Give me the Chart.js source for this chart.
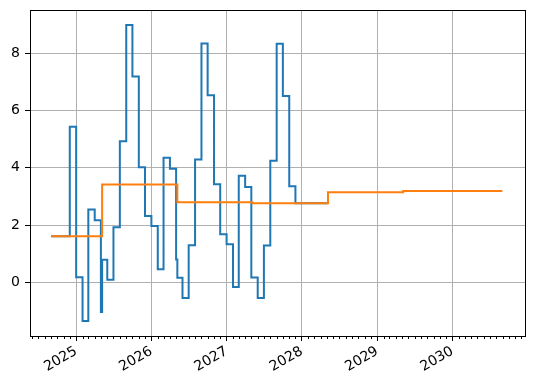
<!DOCTYPE html>
<html>
<head>
<meta charset="utf-8">
<script src="https://cdn.jsdelivr.net/npm/chart.js@4"></script>
<style>
  body { margin: 0; background: #fff; }
  #wrap { width: 534px; height: 385px; }
</style>
</head>
<body>
<div id="wrap"><canvas id="myChart" width="534" height="385"></canvas></div>
<script>
// monthly series (step-post: each value holds from its date to the next one)
let blueDates = [
  "2024-09-01", "2024-12-01", "2025-01-01", "2025-02-01", "2025-03-01", "2025-04-01",
  "2025-05-01", "2025-05-07", "2025-06-01", "2025-07-01", "2025-08-01", "2025-09-01",
  "2025-10-01", "2025-11-01", "2025-12-01", "2026-01-01", "2026-02-01", "2026-03-01",
  "2026-04-01", "2026-05-01", "2026-05-07", "2026-06-01", "2026-07-01", "2026-08-01",
  "2026-09-01", "2026-10-01", "2026-11-01", "2026-12-01", "2027-01-01", "2027-02-01",
  "2027-03-01", "2027-04-01", "2027-05-01", "2027-06-01", "2027-07-01", "2027-08-01",
  "2027-09-01", "2027-10-01", "2027-11-01", "2027-12-01", "2028-05-07"
];
let blueValues = [
  1.62, 5.43, 0.19, -1.34, 2.55, 2.17,
  -1.02, 0.80, 0.10, 1.93, 4.93, 8.98,
  7.18, 4.02, 2.32, 1.97, 0.47, 4.35,
  3.97, 0.81, 0.17, -0.54, 1.30, 4.29,
  8.33, 6.53, 3.43, 1.69, 1.34, -0.15,
  3.72, 3.33, 0.18, -0.54, 1.29, 4.25,
  8.32, 6.50, 3.36, 2.77, 2.77
];

// yearly level
let orangeDates = ["2024-09-01", "2025-05-07", "2026-05-07", "2027-05-07", "2028-05-07", "2029-05-07", "2030-08-31"];
let orangeValues = [1.62, 3.42, 2.80, 2.77, 3.15, 3.19, 3.19];

let yearTicks = [2025, 2026, 2027, 2028, 2029, 2030];
let yTicks = [0, 2, 4, 6, 8];

let xMin = Date.UTC(2024, 4, 22);
let xMax = Date.UTC(2030, 11, 19);

function toPoints(dates, values) {
  return dates.map((d, i) => ({ x: Date.parse(d), y: values[i] }));
}

// matplotlib-like frame and monthly minor ticks
const frame = {
  id: "frame",
  afterDraw(chart) {
    let c = chart.ctx;
    let a = chart.chartArea;
    let xs = chart.scales.x;
    c.save();
    c.strokeStyle = "#000";
    c.lineWidth = 1;
    c.beginPath();
    for (let y = 2024; y <= 2030; y++) {
      for (let m = 1; m < 12; m++) {
        let px = Math.round(xs.getPixelForValue(Date.UTC(y, m, 1))) + 0.5;
        if (px < a.left || px > a.right) continue;
        c.moveTo(px, a.bottom);
        c.lineTo(px, a.bottom + 3);
      }
    }
    c.stroke();
    c.strokeRect(Math.round(a.left) + 0.5, Math.round(a.top) + 0.5,
      Math.round(a.right - a.left), Math.round(a.bottom - a.top));
    c.restore();
  }
};

Chart.defaults.font.family = "'DejaVu Sans', sans-serif";
Chart.defaults.font.size = 14;
Chart.defaults.color = "#000";

let ctx = document.getElementById("myChart");
let myChart = new Chart(ctx, {
  type: "line",
  data: {
    datasets: [
      {
        data: toPoints(blueDates, blueValues),
        borderColor: "#1f77b4",
        borderWidth: 2,
        stepped: true,
        pointRadius: 0,
        order: 2,
      },
      {
        data: toPoints(orangeDates, orangeValues),
        borderColor: "#ff7f0e",
        borderWidth: 2,
        stepped: true,
        pointRadius: 0,
        order: 1,
      },
    ],
  },
  options: {
    responsive: false,
    devicePixelRatio: 1,
    animation: false,
    layout: { padding: { top: 10, right: 9, left: 0, bottom: 0 } },
    plugins: { legend: { display: false }, tooltip: { enabled: false } },
    scales: {
      x: {
        type: "linear",
        min: xMin,
        max: xMax,
        afterBuildTicks: (s) => {
          s.ticks = yearTicks.map((y) => ({ value: Date.UTC(y, 0, 1) }));
        },
        afterFit: (s) => {
          s.height = 49;
          s.paddingLeft = 0;
          s.paddingRight = 0;
        },
        ticks: {
          autoSkip: false,
          minRotation: 30,
          maxRotation: 30,
          padding: 2,
          callback: (v) => String(new Date(v).getUTCFullYear()),
        },
        grid: { color: "#b0b0b0", lineWidth: 1, tickColor: "#000", tickLength: 5 },
        border: { display: false },
      },
      y: {
        min: -1.86,
        max: 9.5,
        afterBuildTicks: (s) => {
          s.ticks = yTicks.map((v) => ({ value: v }));
        },
        afterFit: (s) => {
          s.width = 30;
          s.paddingTop = 0;
          s.paddingBottom = 0;
        },
        ticks: { padding: 5 },
        grid: { color: "#b0b0b0", lineWidth: 1, tickColor: "#000", tickLength: 5 },
        border: { display: false },
      },
    },
  },
  plugins: [frame],
});
</script>
</body>
</html>
